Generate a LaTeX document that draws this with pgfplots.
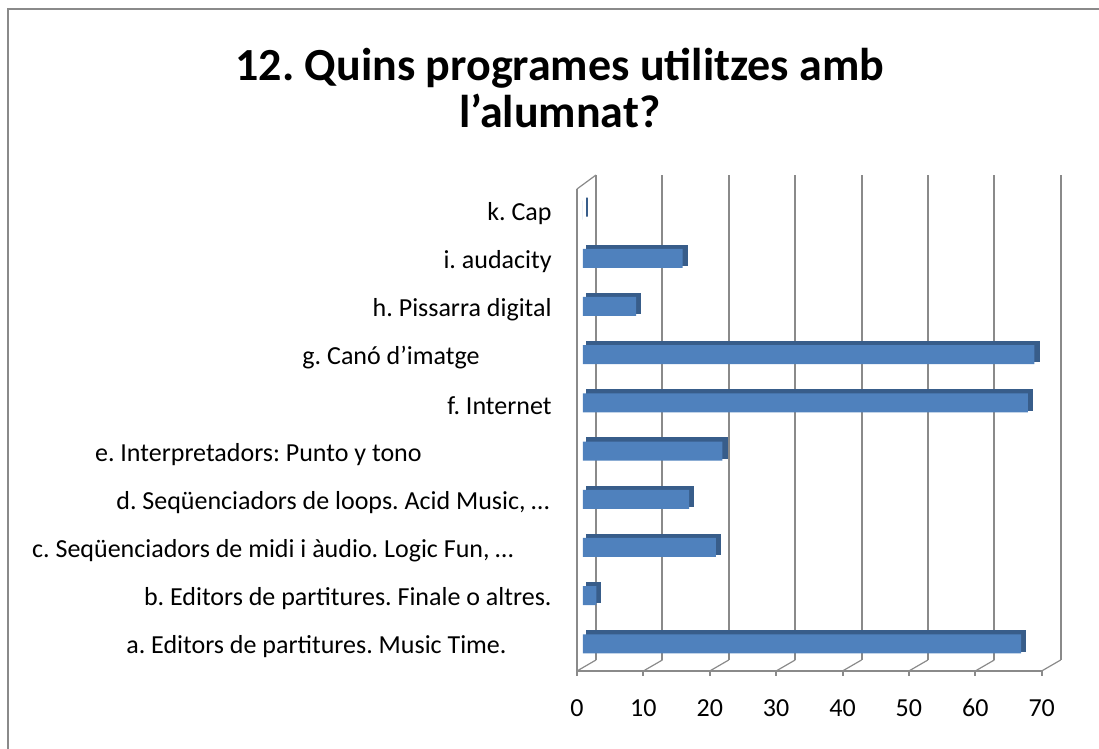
\documentclass[border=0pt]{standalone}
\usepackage{pgfplots}
\pgfplotsset{compat=1.18}
\usepackage{fontspec}
\setmainfont{Carlito}
\definecolor{barblue}{HTML}{4F81BD}
\definecolor{bardark}{HTML}{385D8A}
\definecolor{gridc}{HTML}{8A8A8A}
\frenchspacing
\begin{document}
\begin{tikzpicture}
\useasboundingbox (0,0) rectangle (549.5pt,374.5pt);
\draw[gridc, line width=1.3pt] (4pt,0) -- (4pt,370pt) -- (549.5pt,370pt);
\node[align=center, font=\fontsize{23}{24}\selectfont\bfseries] at (280pt,330.5pt) {12. Quins programes utilitzes amb\\[-0.3pt]l’alumnat?};
\begin{axis}[
  at={(288.5pt,39pt)}, anchor=south west,
  width=232.35pt, height=241pt, scale only axis,
  xmin=0, xmax=70, ymin=-0.5, ymax=9.5,
  clip=false,
  axis x line*=bottom, axis y line*=left,
  axis line style={draw=gridc, line width=1pt},
  xtick={0,10,20,30,40,50,60,70},
  ytick={0,1,2,3,4,5,6,7,8,9},
  yticklabels={
    {a. Editors de partitures.  Music Time.\hspace*{22.5pt}},
    {b. Editors de partitures. Finale o altres.},
    {c. Seqüenciadors de midi i àudio. Logic Fun, \ldots\hspace*{19pt}},
    {d. Seqüenciadors de loops. Acid Music, \ldots\hspace*{1pt}},
    {e. Interpretadors:  Punto y tono\hspace*{65pt}},
    {f. Internet},
    {g. Canó d’imatge\hspace*{36pt}},
    {h. Pissarra digital},
    {i. audacity},
    {k. Cap}},
  minor ytick={-0.5,0.5,1.5,2.5,3.5,4.5,5.5,6.5,7.5,8.5,9.5},
  ytick style={draw=none},
  minor tick style={draw=gridc, line width=1pt},
  minor tick length=2.5pt,
  xtick style={draw=gridc, line width=1pt},
  major tick length=2.5pt,
  tick align=outside,
  /pgf/number format/assume math mode=true,
  ticklabel style={font=\fontsize{13}{15}\selectfont, inner sep=0pt},
  yticklabel style={anchor=east, xshift=-10pt},
  xticklabel style={anchor=base, yshift=-20.5pt},
]
\pgfplotsinvokeforeach{0,10,20,30,40,50,60,70}{
  \draw[gridc, line width=1pt] ([shift={(9.5pt,5.5pt)}]axis cs:#1,-0.5) -- ([shift={(9.5pt,7pt)}]axis cs:#1,9.5);
  \draw[gridc, line width=0.6pt] (axis cs:#1,-0.5) -- ([shift={(9.5pt,5.5pt)}]axis cs:#1,-0.5);
}
\draw[gridc, line width=0.6pt] (axis cs:0,9.5) -- ([shift={(9.5pt,7pt)}]axis cs:0,9.5);
\addplot[xbar, bar width=9.5pt, bar shift=0pt, fill=bardark, draw=bardark, line width=1.2pt, xshift=5pt, yshift=3pt]
  coordinates {(66,0) (2,1) (20,2) (16,3) (21,4) (67,5) (68,6) (8,7) (15,8) (0,9)};
\addplot[xbar, bar width=9.5pt, bar shift=0pt, fill=barblue, draw=none, xshift=3pt, yshift=1.5pt]
  coordinates {(66,0) (2,1) (20,2) (16,3) (21,4) (67,5) (68,6) (8,7) (15,8) (0,9)};
\end{axis}
\end{tikzpicture}
\end{document}
